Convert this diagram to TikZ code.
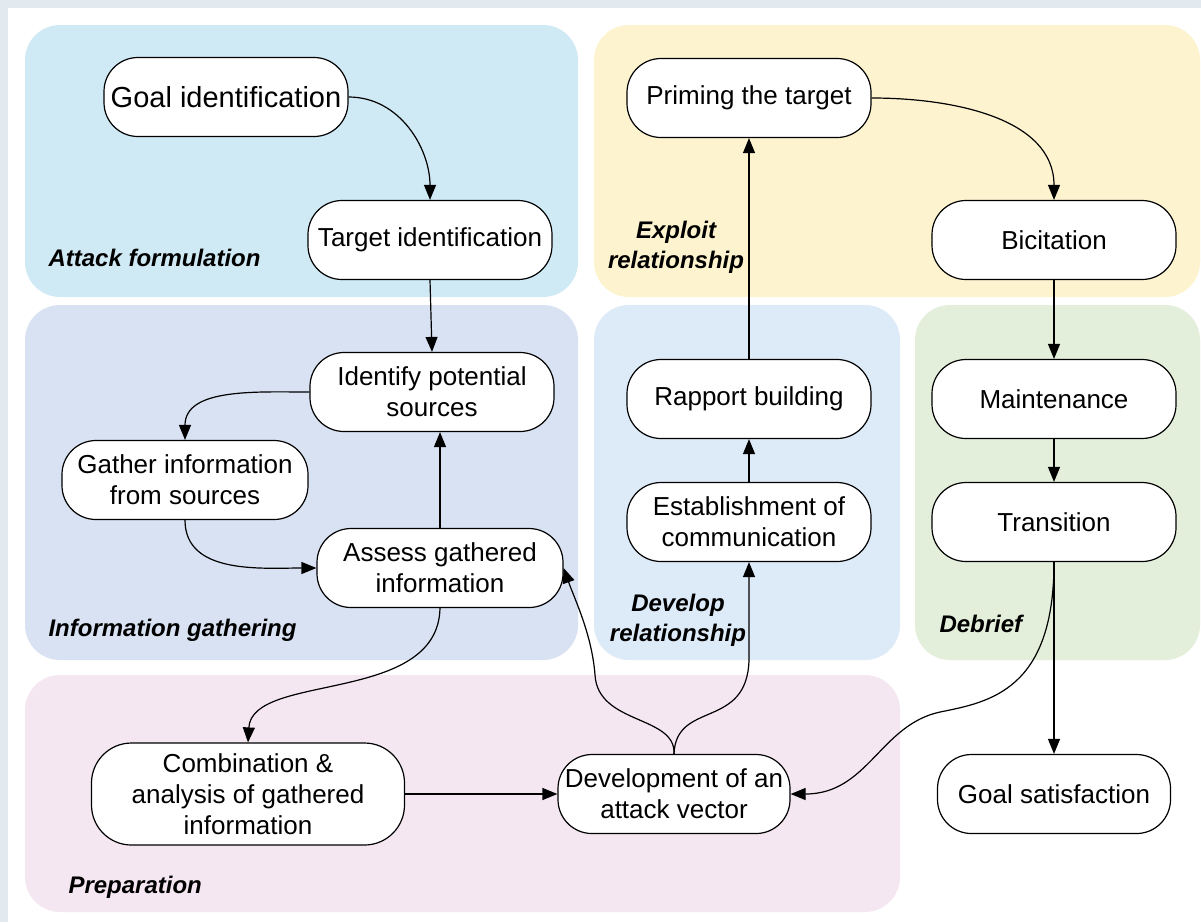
\documentclass[tikz,border=0pt]{standalone}
\usepackage{fontspec}
\setmainfont{Liberation Sans}
\usetikzlibrary{arrows.meta}
\definecolor{framegray}{RGB}{226,234,240}
\definecolor{attackblue}{RGB}{208,234,245}
\definecolor{exploityellow}{RGB}{253,244,207}
\definecolor{infolilac}{RGB}{217,226,242}
\definecolor{developblue}{RGB}{221,234,247}
\definecolor{debriefgreen}{RGB}{227,239,218}
\definecolor{preppink}{RGB}{245,231,241}
\begin{document}
\begin{tikzpicture}[x=1pt,y=1pt,
    panel/.style={rounded corners=35pt},
    stage/.style={draw,line width=1.2pt,fill=white,rounded corners=34pt,
      minimum width=244pt,minimum height=79pt,inner sep=2pt,align=center,
      font=\fontsize{26}{31}\selectfont},
    phase/.style={align=center,font=\fontsize{24}{30}\selectfont\bfseries\itshape},
    flow/.style={line width=1.2pt,-{Triangle[length=15pt,width=12pt]}}]
  \useasboundingbox (0,0) rectangle (1201,-922);
  % background and panels
  \fill[framegray] (0,0) rectangle (1201,-922);
  \fill[white] (8,-8) rectangle (1201,-922);
  \fill[panel,attackblue] (25,-25) rectangle (578,-297);
  \fill[panel,exploityellow] (594,-25) rectangle (1200,-297);
  \fill[panel,infolilac] (25,-305) rectangle (578,-660);
  \fill[panel,developblue] (594,-305) rectangle (900,-660);
  \fill[panel,debriefgreen] (915,-305) rectangle (1200,-660);
  \fill[panel,preppink] (25,-675) rectangle (900,-912);
  \node[phase,anchor=west] (attacklabel) at (45,-258) {Attack formulation};
  \node[phase] (exploitlabel) at (676,-247) {Exploit\\relationship};
  \node[phase,anchor=west] (infolabel) at (45,-630) {Information gathering};
  \node[phase] (developlabel) at (678,-620) {Develop\\relationship};
  \node[phase,anchor=west] (debrieflabel) at (936,-624) {Debrief};
  \node[phase,anchor=west] (preplabel) at (65,-887) {Preparation};
  % stages
  \node[stage,font=\fontsize{29}{33}\selectfont] (goal) at (226,-97) {Goal identification};
  \node[stage] (target) at (430,-240) {Target identification};
  \node[stage] (identify) at (432,-392) {Identify potential\\sources};
  \node[stage,minimum width=246pt] (gather) at (185,-480) {Gather information\\from sources};
  \node[stage,minimum width=246pt] (assess) at (440,-568) {Assess gathered\\information};
  \node[stage] (priming) at (749,-98) {Priming the target};
  \node[stage] (rapport) at (749,-399) {Rapport building};
  \node[stage] (establish) at (749,-522) {Establishment of\\communication};
  \node[stage] (bicitation) at (1054,-240) {Bicitation};
  \node[stage] (maintenance) at (1054,-399) {Maintenance};
  \node[stage] (transition) at (1054,-522) {Transition};
  \node[stage,minimum width=313pt,minimum height=102pt,rounded corners=40pt] (combine) at (248,-794) {Combination \&\\analysis of gathered\\information};
  \node[stage,minimum width=232pt] (develop) at (674,-794) {Development of an\\attack vector};
  \node[stage,minimum width=233pt] (satisfaction) at (1054,-794) {Goal satisfaction};
  % connectors
  \draw[flow] (goal.east) to[out=0,in=90] (target.north);
  \draw[flow] (target.south) -- (identify.north);
  \draw[flow] (identify.west) to[out=180,in=90] (gather.north);
  \draw[flow] (gather.south) to[out=-90,in=180] (assess.west);
  \draw[flow] (assess.north) -- (assess.north |- identify.south);
  \draw[flow] (assess.south) .. controls (438,-705) and (252,-672) .. (combine.north);
  \draw[flow] (combine.east) -- (develop.west);
  \draw[flow] (develop.north) .. controls (676,-715) and (598,-725) .. (595,-675)
    .. controls (592,-635) and (575,-600) .. (assess.east);
  \draw[flow] (develop.north) .. controls (676,-700) and (747,-730) .. (749,-660) -- (establish.south);
  \draw[flow] (establish.north) -- (rapport.south);
  \draw[flow] (rapport.north) -- (priming.south);
  \draw[flow] (priming.east) to[out=0,in=90] (bicitation.north);
  \draw[flow] (bicitation.south) -- (maintenance.north);
  \draw[flow] (maintenance.south) -- (transition.north);
  \draw[flow] (transition.south) -- (satisfaction.north);
  \draw[flow] (transition.south) .. controls (1054,-690) and (990,-702) .. (940,-712)
    .. controls (880,-725) and (868,-794) .. (develop.east);
\end{tikzpicture}
\end{document}
